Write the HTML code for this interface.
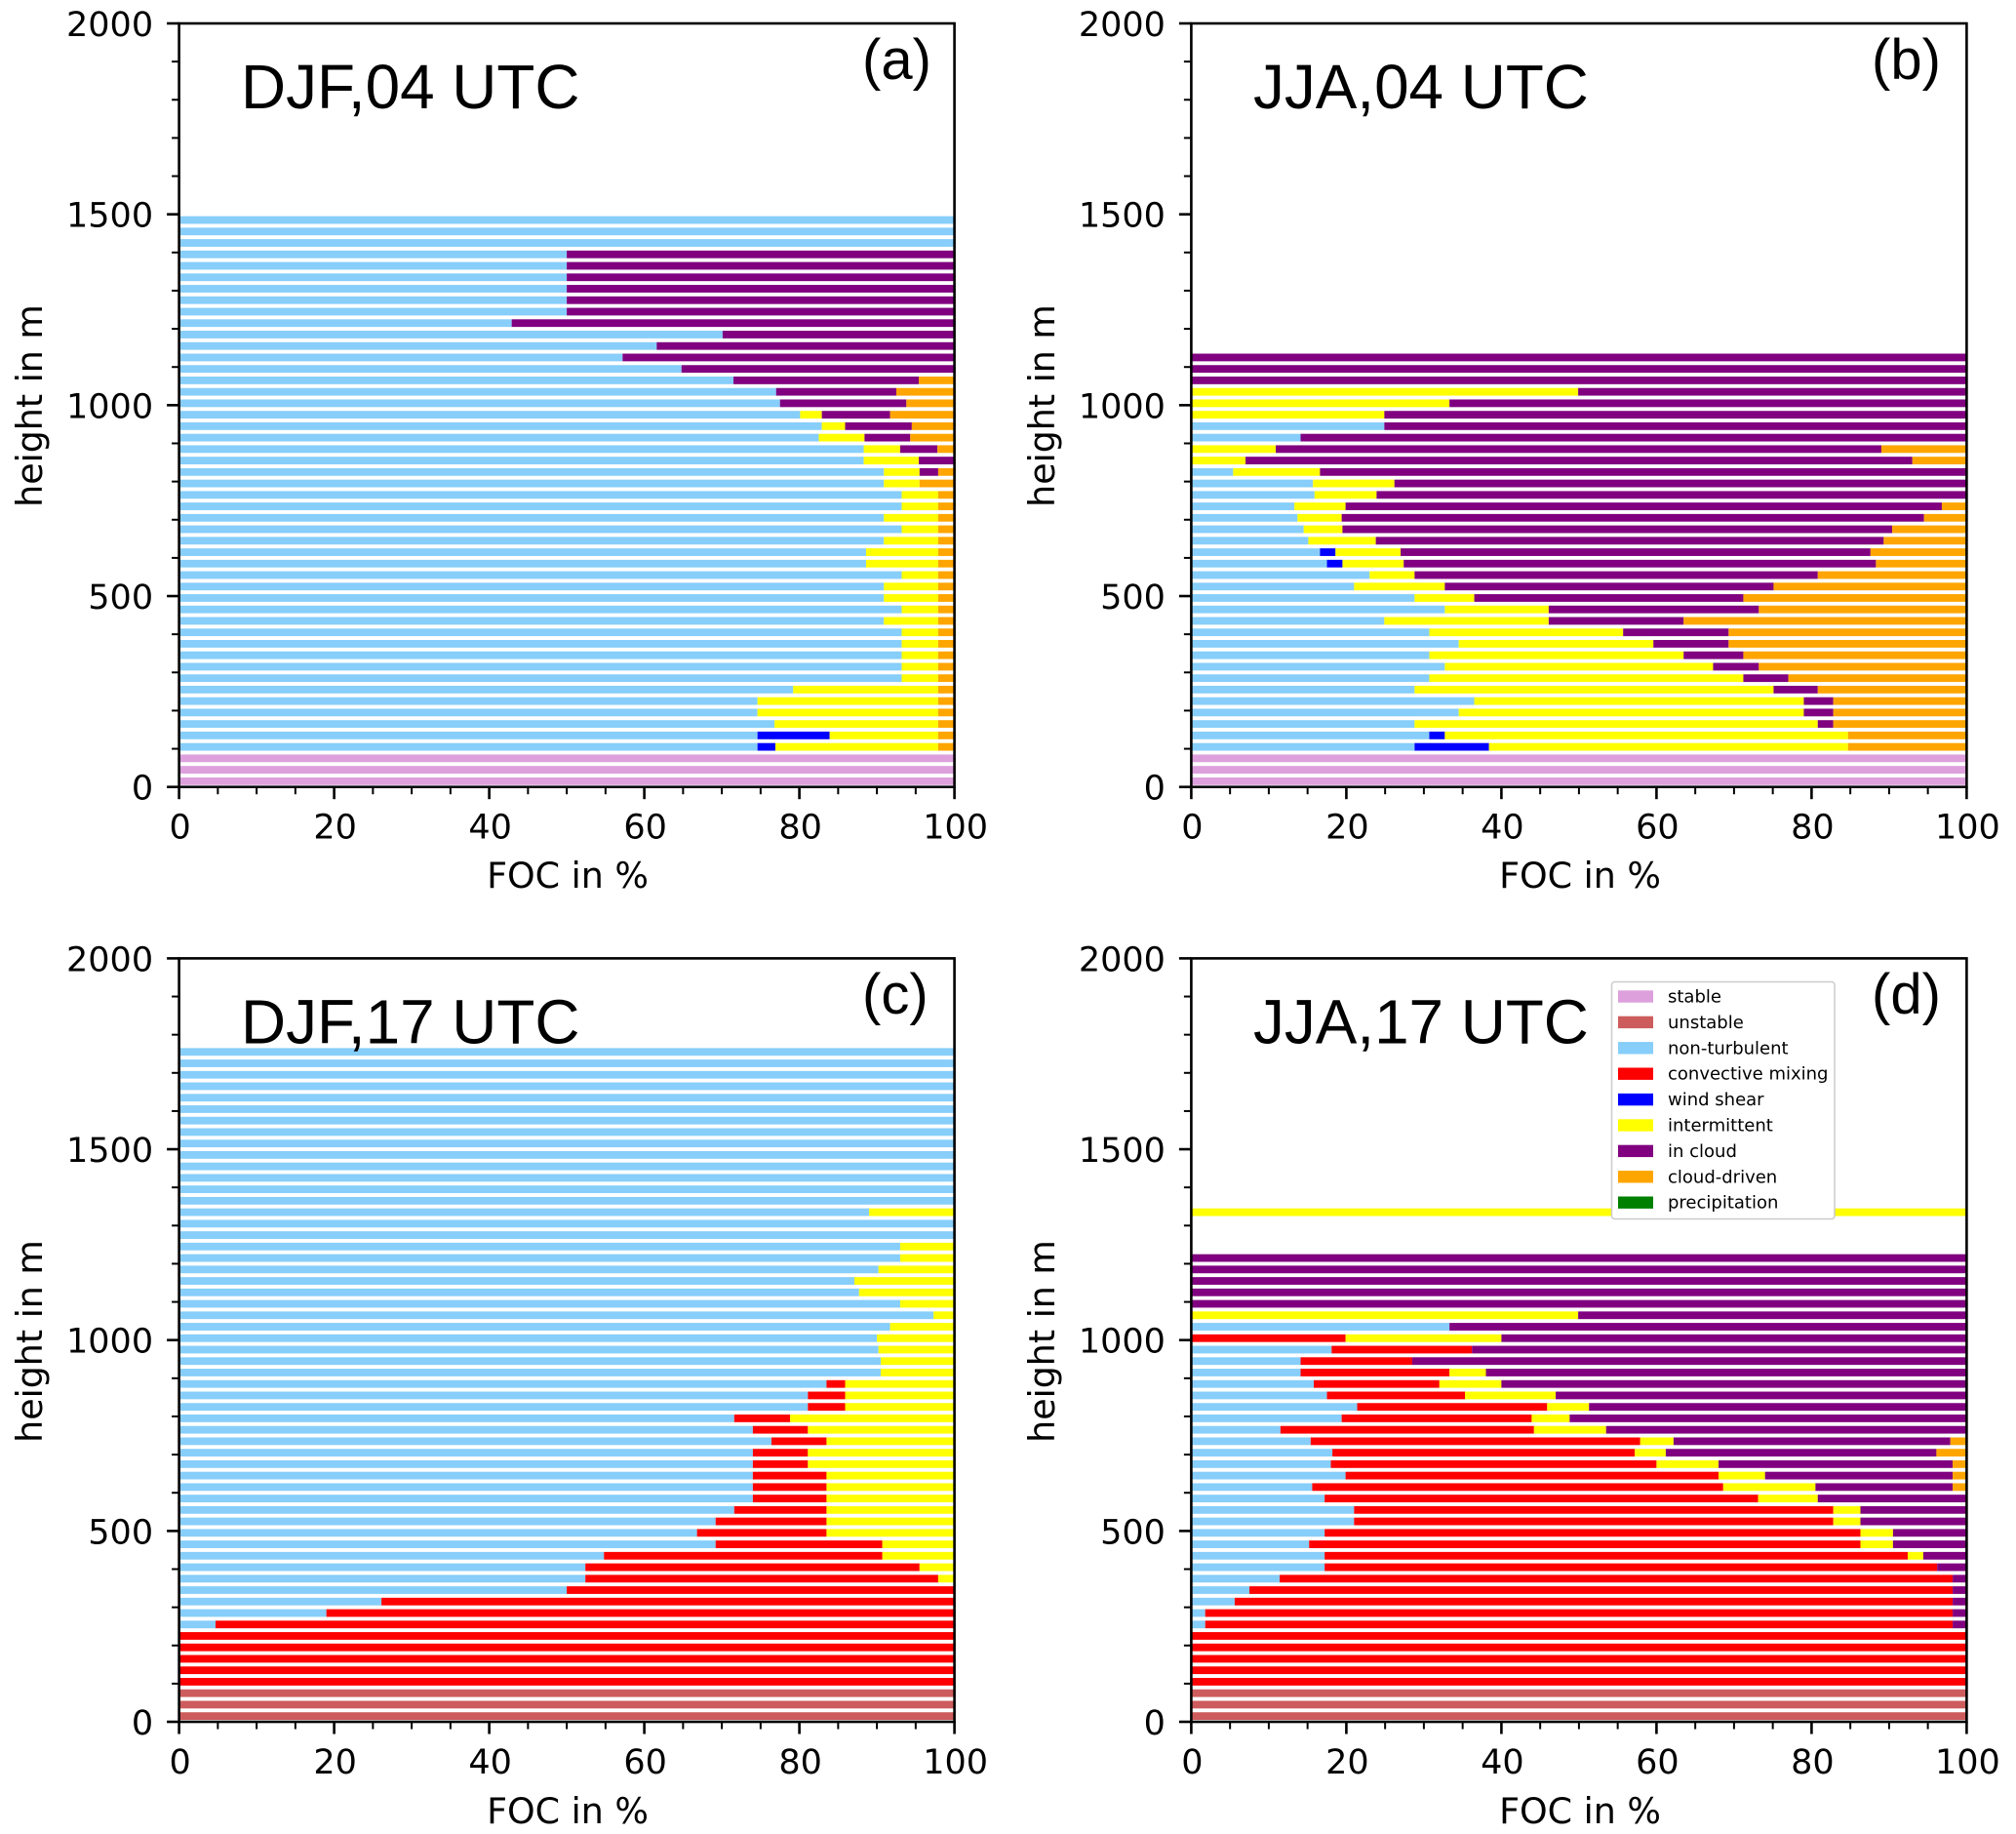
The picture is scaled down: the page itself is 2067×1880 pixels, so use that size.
<!DOCTYPE html>
<html lang="en">
<head>
<meta charset="utf-8">
<title>FOC of turbulence classes by height</title>
<style>
html,body{margin:0;padding:0;background:#fff}
svg{display:block}
.tick{font-family:"DejaVu Sans",sans-serif;font-size:35px;fill:#000}
.axt{font-family:"DejaVu Sans",sans-serif;font-size:36.4px;fill:#000}
.ttl{font-family:"Liberation Sans",sans-serif;font-size:63.8px;fill:#000}
.let{font-family:"Liberation Sans",sans-serif;font-size:58px;fill:#000}
.leg{font-family:"DejaVu Sans",sans-serif;font-size:18px;fill:#000}
</style>
</head>
<body>
<svg id="figure" xmlns="http://www.w3.org/2000/svg" width="2067" height="1880" viewBox="0 0 2067 1880">
  <rect x="0" y="0" width="2067" height="1880" fill="#fff"/>

  <g id="panel-a"></g>
  <g id="panel-b"></g>
  <g id="panel-c"></g>
  <g id="panel-d"></g>

  <g>
    <text class="ttl" x="247" y="111">DJF,04 UTC</text>
    <text class="ttl" x="1285" y="111">JJA,04 UTC</text>
    <text class="ttl" x="247" y="1069.5">DJF,17 UTC</text>
    <text class="ttl" x="1285" y="1069.5">JJA,17 UTC</text>
    <text class="let" x="884" y="81">(a)</text>
    <text class="let" x="1919" y="81">(b)</text>
    <text class="let" x="884" y="1039">(c)</text>
    <text class="let" x="1919" y="1039">(d)</text>

    <text class="axt" x="582" y="910" text-anchor="middle">FOC in %</text>
    <text class="axt" x="1620" y="910" text-anchor="middle">FOC in %</text>
    <text class="axt" x="582" y="1869" text-anchor="middle">FOC in %</text>
    <text class="axt" x="1620" y="1869" text-anchor="middle">FOC in %</text>

    <text class="axt" transform="translate(43 416) rotate(-90)" text-anchor="middle">height in m</text>
    <text class="axt" transform="translate(1081 416) rotate(-90)" text-anchor="middle">height in m</text>
    <text class="axt" transform="translate(43 1375) rotate(-90)" text-anchor="middle">height in m</text>
    <text class="axt" transform="translate(1081 1375) rotate(-90)" text-anchor="middle">height in m</text>
  </g>

  <g>
    <rect x="1652.5" y="1006.5" width="228.5" height="243" rx="3" fill="#fff" stroke="#ccc" stroke-width="1.5"/>
    <rect x="1659" y="1015.3" width="36" height="12.4" fill="#dda0dd"/>
    <text class="leg" x="1710" y="1027.5">stable</text>
    <rect x="1659" y="1041.7" width="36" height="12.4" fill="#cd5c5c"/>
    <text class="leg" x="1710" y="1053.9">unstable</text>
    <rect x="1659" y="1068.1" width="36" height="12.4" fill="#87cefa"/>
    <text class="leg" x="1710" y="1080.3">non-turbulent</text>
    <rect x="1659" y="1094.5" width="36" height="12.4" fill="#ff0000"/>
    <text class="leg" x="1710" y="1106.7">convective mixing</text>
    <rect x="1659" y="1120.9" width="36" height="12.4" fill="#0000ff"/>
    <text class="leg" x="1710" y="1133.1">wind shear</text>
    <rect x="1659" y="1147.3" width="36" height="12.4" fill="#ffff00"/>
    <text class="leg" x="1710" y="1159.5">intermittent</text>
    <rect x="1659" y="1173.7" width="36" height="12.4" fill="#800080"/>
    <text class="leg" x="1710" y="1185.9">in cloud</text>
    <rect x="1659" y="1200.1" width="36" height="12.4" fill="#ffa500"/>
    <text class="leg" x="1710" y="1212.3">cloud-driven</text>
    <rect x="1659" y="1226.5" width="36" height="12.4" fill="#008000"/>
    <text class="leg" x="1710" y="1238.7">precipitation</text>
  </g>
</svg>

<script>
// Height levels (m), lowest first
const heights = [15,45,75,105,135,165,195,225,255,285,315,345,375,405,435,465,495,525,555,585,615,645,675,705,735,765,795,825,855,885,915,945,975,1005,1035,1065,1095,1125,1155,1185,1215,1245,1275,1305,1335,1365,1395,1425,1455,1485,1515,1545,1575,1605,1635,1665,1695,1725,1755];

// Axis ticks
const xTicks = [0,20,40,60,80,100];
const yTicks = [0,500,1000,1500,2000];
const xMinorTicks = [5,10,15,25,30,35,45,50,55,65,70,75,85,90,95];
const yMinorTicks = [100,200,300,400,600,700,800,900,1100,1200,1300,1400,1600,1700,1800,1900];

// (a) DJF, 04 UTC: FOC in % by height level
const aStable = [100,100,100];
const aNonTurbulent = [0,0,0,74.6,74.6,76.8,74.6,74.6,79.2,93.2,93.2,93.2,93.2,93.2,90.9,93.2,90.9,90.9,93.2,88.6,88.6,90.9,93.2,90.9,93.2,93.2,90.9,90.9,88.3,88.3,82.5,82.9,80.1,77.5,77,71.5,64.8,57.2,61.6,70.1,42.9,50,50,50,50,50,50,100,100,100];
const aShear = [0,0,0,2.3,9.3];
const aIntermittent = [0,0,0,21,14,21.1,23.3,23.3,18.7,4.7,4.7,4.7,4.7,4.7,7,4.7,7,7,4.7,9.3,9.3,7,4.7,7,4.7,4.7,4.6,4.6,7.1,4.7,5.9,3,2.8];
const aCloud = [0,0,0,0,0,0,0,0,0,0,0,0,0,0,0,0,0,0,0,0,0,0,0,0,0,0,0,2.4,4.6,4.8,5.9,8.6,8.8,16.3,15.5,23.9,35.2,42.8,38.4,29.9,57.1,50,50,50,50,50,50];
const aDriven = [0,0,0,2.1,2.1,2.1,2.1,2.1,2.1,2.1,2.1,2.1,2.1,2.1,2.1,2.1,2.1,2.1,2.1,2.1,2.1,2.1,2.1,2.1,2.1,2.1,4.5,2.1,0,2.2,5.7,5.5,8.3,6.2,7.5,4.6];

// (b) JJA, 04 UTC
const bStable = [100,100,100];
const bNonTurbulent = [0,0,0,28.8,30.7,28.8,34.5,36.5,28.8,30.7,32.7,30.7,34.5,30.7,24.9,32.7,28.8,21,23,17.5,16.6,15.1,14.5,13.7,13.3,15.9,15.7,5.4,0,0,14.1,24.9];
const bShear = [0,0,0,9.6,2,0,0,0,0,0,0,0,0,0,0,0,0,0,0,2,2];
const bIntermittent = [0,0,0,46.3,52,52,44.5,42.5,46.3,40.5,34.6,32.8,25.1,25,21.2,13.4,7.7,11.7,5.8,7.9,8.4,8.7,5,5.7,6.6,8,10.5,11.2,7,10.9,0,0,24.9,33.3,49.9];
const bCloud = [0,0,0,0,0,2,3.8,3.8,5.7,5.8,5.9,7.7,9.7,13.6,17.4,27.1,34.7,42.4,52,60.9,60.6,65.5,70.9,75.1,76.9,76.1,73.8,83.4,86,78.1,85.9,75.1,75.1,66.7,50.1,100,100,100];
const bDriven = [0,0,0,15.3,15.3,17.2,17.2,17.2,19.2,23,26.8,28.8,30.7,30.7,36.5,26.8,28.8,24.9,19.2,11.7,12.4,10.7,9.6,5.5,3.2,0,0,0,7,11];

// (c) DJF, 17 UTC
const cUnstable = [100,100,100];
const cNonTurbulent = [0,0,0,0,0,0,0,0,4.7,19,26.1,50,52.4,52.4,54.8,69.2,66.8,69.2,71.6,74,74,74,74,74,76.4,74,71.6,81.1,81.1,83.5,90.5,90.5,90.2,90,91.7,97.3,93,87.7,87.1,90.2,93,93,100,100,89,100,100,100,100,100,100,100,100,100,100,100,100,100,100];
const cConvective = [0,0,0,100,100,100,100,100,95.3,81,73.9,50,45.5,43.1,35.9,21.5,16.7,14.3,11.9,9.5,9.5,9.5,7.1,7.1,7.1,7.1,7.2,4.8,4.8,2.4];
const cIntermittent = [0,0,0,0,0,0,0,0,0,0,0,0,2.1,4.5,9.3,9.3,16.5,16.5,16.5,16.5,16.5,16.5,18.9,18.9,16.5,18.9,21.2,14.1,14.1,14.1,9.5,9.5,9.8,10,8.3,2.7,7,12.3,12.9,9.8,7,7,0,0,11];

// (d) JJA, 17 UTC
const dUnstable = [100,100,100];
const dNonTurbulent = [0,0,0,0,0,0,0,0,1.8,1.8,5.6,7.5,11.4,17.2,17.2,15.2,17.2,21,21,17.2,15.6,19.9,18,18.2,15.4,11.5,19.4,21.4,17.5,15.8,14.1,14.1,18.1,0,33.3];
const dConvective = [0,0,0,100,100,100,100,100,96.4,96.4,92.6,90.7,86.8,79,75.2,71.1,69.1,61.8,61.8,55.9,53,48.1,42,39,42.5,32.7,24.5,24.5,17.8,16.2,19.2,14.4,18.1,19.9];
const dIntermittent = [0,0,0,0,0,0,0,0,0,0,0,0,0,0,2,4.2,4.2,3.5,3.5,7.7,11.9,6,8,4,4.3,9.3,4.9,5.4,11.7,8,4.7,0,0,20.1,0,49.9,0,0,0,0,0,0,0,0,100];
const dCloud = [0,0,0,0,0,0,0,0,1.8,1.8,1.8,1.8,1.8,3.8,5.6,9.5,9.5,13.7,13.7,19.2,17.7,24.2,30.2,34.9,35.7,46.5,51.2,48.7,53,60,62,71.5,63.8,60,66.7,50.1,100,100,100,100,100];
const dDriven = [0,0,0,0,0,0,0,0,0,0,0,0,0,0,0,0,0,0,0,0,1.8,1.8,1.8,3.9,2.1];

const classes = [
  {key:'stable', color:'#dda0dd'},
  {key:'unstable', color:'#cd5c5c'},
  {key:'non-turbulent', color:'#87cefa'},
  {key:'convective-mixing', color:'#ff0000'},
  {key:'wind-shear', color:'#0000ff'},
  {key:'intermittent', color:'#ffff00'},
  {key:'in-cloud', color:'#800080'},
  {key:'cloud-driven', color:'#ffa500'},
  {key:'precipitation', color:'#008000'}
];

const panels = [
  {id:'a', left:183.6, right:978.6, top:24, bottom:806.7,
   series:{'stable':aStable,'non-turbulent':aNonTurbulent,'wind-shear':aShear,'intermittent':aIntermittent,'in-cloud':aCloud,'cloud-driven':aDriven}},
  {id:'b', left:1221.4, right:2016.4, top:24, bottom:806.7,
   series:{'stable':bStable,'non-turbulent':bNonTurbulent,'wind-shear':bShear,'intermittent':bIntermittent,'in-cloud':bCloud,'cloud-driven':bDriven}},
  {id:'c', left:183.6, right:978.6, top:982.4, bottom:1765,
   series:{'unstable':cUnstable,'non-turbulent':cNonTurbulent,'convective-mixing':cConvective,'intermittent':cIntermittent}},
  {id:'d', left:1221.4, right:2016.4, top:982.4, bottom:1765,
   series:{'unstable':dUnstable,'non-turbulent':dNonTurbulent,'convective-mixing':dConvective,'intermittent':dIntermittent,'in-cloud':dCloud,'cloud-driven':dDriven}}
];

const SVGNS = 'http://www.w3.org/2000/svg';
const barThickness = 20; // metres
const X_MAX = 100;
const Y_MAX = 2000;

function xScale(p, v) { return p.left + (p.right - p.left) * v / X_MAX; }
function yScale(p, h) { return p.bottom - (p.bottom - p.top) * h / Y_MAX; }

function drawBars(p, g) {
  heights.forEach(function (h, i) {
    let cum = 0;
    classes.forEach(function (c) {
      const arr = p.series[c.key];
      const v = arr && arr[i] ? arr[i] : 0;
      if (v <= 0) return;
      const r = document.createElementNS(SVGNS, 'rect');
      const x0 = xScale(p, cum);
      const x1 = xScale(p, Math.min(cum + v, X_MAX));
      const yTop = yScale(p, h + barThickness / 2);
      const yBot = yScale(p, h - barThickness / 2);
      r.setAttribute('x', x0);
      r.setAttribute('y', yTop);
      r.setAttribute('width', Math.max(0, x1 - x0));
      r.setAttribute('height', yBot - yTop);
      r.setAttribute('fill', c.color);
      
      
      g.appendChild(r);
      cum += v;
    });
  });
}

function line(g, x1, y1, x2, y2, w, name) {
  const l = document.createElementNS(SVGNS, 'line');
  l.setAttribute('x1', x1);
  l.setAttribute('y1', y1);
  l.setAttribute('x2', x2);
  l.setAttribute('y2', y2);
  l.setAttribute('stroke', '#000');
  l.setAttribute('stroke-width', w);
  
  
  g.appendChild(l);
}

function label(g, x, y, anchor, txt, name) {
  const t = document.createElementNS(SVGNS, 'text');
  t.setAttribute('class', 'tick');
  t.setAttribute('x', x);
  t.setAttribute('y', y);
  t.setAttribute('text-anchor', anchor);
  
  
  t.textContent = txt;
  g.appendChild(t);
}

function drawAxes(p, g) {
  xMinorTicks.forEach(function (v) {
    line(g, xScale(p, v), p.bottom, xScale(p, v), p.bottom + 7.5, 2, 'x-minor-tick');
  });
  yMinorTicks.forEach(function (v) {
    line(g, p.left, yScale(p, v), p.left - 7.5, yScale(p, v), 2, 'y-minor-tick');
  });
  xTicks.forEach(function (v) {
    line(g, xScale(p, v), p.bottom, xScale(p, v), p.bottom + 12.5, 2.6, 'x-major-tick');
    label(g, xScale(p, v) + 1, p.bottom + 53, 'middle', String(v), 'x-tick-label');
  });
  yTicks.forEach(function (v) {
    line(g, p.left, yScale(p, v), p.left - 12.5, yScale(p, v), 2.6, 'y-major-tick');
    label(g, p.left - 26.5, yScale(p, v) + 13, 'end', String(v), 'y-tick-label');
  });
  const frame = document.createElementNS(SVGNS, 'rect');
  frame.setAttribute('x', p.left);
  frame.setAttribute('y', p.top);
  frame.setAttribute('width', p.right - p.left);
  frame.setAttribute('height', p.bottom - p.top);
  frame.setAttribute('fill', 'none');
  frame.setAttribute('stroke', '#000');
  frame.setAttribute('stroke-width', 2.6);
  
  
  g.appendChild(frame);
}

panels.forEach(function (p) {
  const g = document.getElementById('panel-' + p.id);
  drawBars(p, g);
  drawAxes(p, g);
});
</script>
</body>
</html>
